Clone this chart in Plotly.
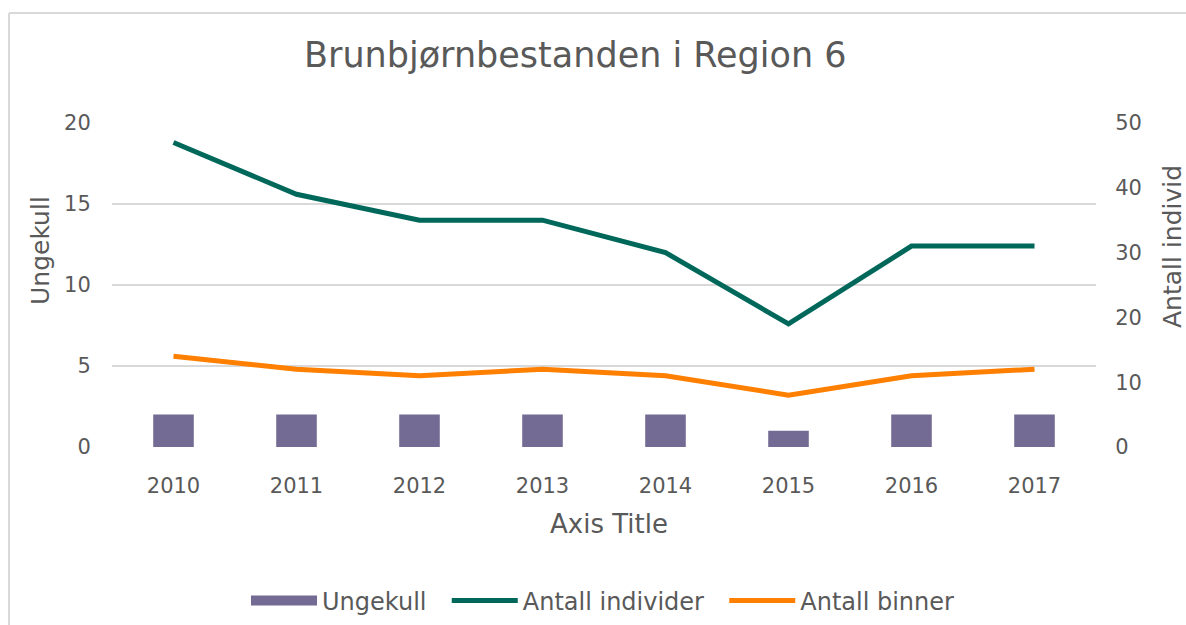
import plotly.graph_objects as go

years = ["2010", "2011", "2012", "2013", "2014", "2015", "2016", "2017"]
ungekull = [2, 2, 2, 2, 2, 1, 2, 2]
antall_individer = [47, 39, 35, 35, 30, 19, 31, 31]
antall_binner = [14, 12, 11, 12, 11, 8, 11, 12]

FONT = "DejaVu Sans"
TXT = "#595959"
GRID = "#D9D9D9"
PURPLE = "#746B94"
NB = "\u00a0\u00a0"

fig = go.Figure()
fig.add_trace(go.Bar(x=years, y=ungekull, name="Ungekull",
                     marker=dict(color=PURPLE, line=dict(width=0)),
                     width=0.33, yaxis="y", showlegend=False))
# legend swatch for the bars (wide rectangle like the reference)
fig.add_trace(go.Scatter(x=[years[0]], y=[None], name="Ungekull" + NB, mode="lines",
                         line=dict(color=PURPLE, width=17), yaxis="y",
                         hoverinfo="skip"))
fig.add_trace(go.Scatter(x=years, y=antall_individer, name="Antall individer" + NB,
                         mode="lines", line=dict(color="#00685A", width=5),
                         yaxis="y2"))
fig.add_trace(go.Scatter(x=years, y=antall_binner, name="Antall binner",
                         mode="lines", line=dict(color="#FF7F00", width=5),
                         yaxis="y2"))

W, H = 1186, 625
L, R, T, B = 112, 90, 123, 178
pw, ph = W - L - R, H - T - B

def px(xp):
    return (xp - L) / pw

def py(yp):
    return (H - B - yp) / ph

fig.update_layout(
    width=W, height=H,
    margin=dict(l=L, r=R, t=T, b=B, autoexpand=False),
    paper_bgcolor="white", plot_bgcolor="white",
    font=dict(family=FONT, color=TXT, size=22),
    showlegend=True,
    legend=dict(orientation="h", xref="container", yref="container",
                x=603 / W, xanchor="center", y=1 - 601 / H, yanchor="middle",
                font=dict(size=24, color=TXT, family=FONT), itemwidth=66,
                traceorder="normal", bgcolor="rgba(0,0,0,0)"),
    xaxis=dict(type="category", showgrid=False, zeroline=False, showline=False,
               ticks="outside", ticklen=20, tickcolor="rgba(0,0,0,0)",
               tickfont=dict(size=21, color=TXT, family=FONT)),
    yaxis=dict(range=[0, 20], dtick=5, showgrid=True, gridcolor=GRID, gridwidth=1.5,
               zeroline=False, showline=False, ticks="outside", ticklen=16,
               tickcolor="rgba(0,0,0,0)", tickfont=dict(size=21, color=TXT, family=FONT)),
    yaxis2=dict(range=[0, 50], dtick=10, overlaying="y", side="right", showgrid=False,
                zeroline=False, showline=False, ticks="outside", ticklen=14,
                tickcolor="rgba(0,0,0,0)", tickfont=dict(size=21, color=TXT, family=FONT)),
    bargap=0.67,
    annotations=[
        dict(text="Brunbjørnbestanden i Region 6", xref="paper", yref="paper",
             x=px(575), y=py(55), xanchor="center", yanchor="middle", showarrow=False,
             font=dict(size=35, color=TXT, family=FONT)),
        dict(text="Axis Title", xref="paper", yref="paper", x=px(609), y=py(524),
             xanchor="center", yanchor="middle", showarrow=False,
             font=dict(size=26, color=TXT, family=FONT)),
        dict(text="Ungekull", xref="paper", yref="paper", x=px(40), y=py(251),
             xanchor="center", yanchor="middle", textangle=-90, showarrow=False,
             font=dict(size=25, color=TXT, family=FONT)),
        dict(text="Antall individ", xref="paper", yref="paper", x=px(1172), y=py(247),
             xanchor="center", yanchor="middle", textangle=-90, showarrow=False,
             font=dict(size=25, color=TXT, family=FONT)),
    ],
    shapes=[
        dict(type="line", xref="paper", yref="paper", x0=px(9), x1=px(1200),
             y0=py(13), y1=py(13), line=dict(color=GRID, width=2)),
        dict(type="line", xref="paper", yref="paper", x0=px(9), x1=px(9),
             y0=py(13), y1=py(640), line=dict(color=GRID, width=2)),
    ],
)

fig.write_html("out.html", config={"displayModeBar": False},
               post_script="document.body.style.margin='0px';document.body.style.overflow='hidden';")
